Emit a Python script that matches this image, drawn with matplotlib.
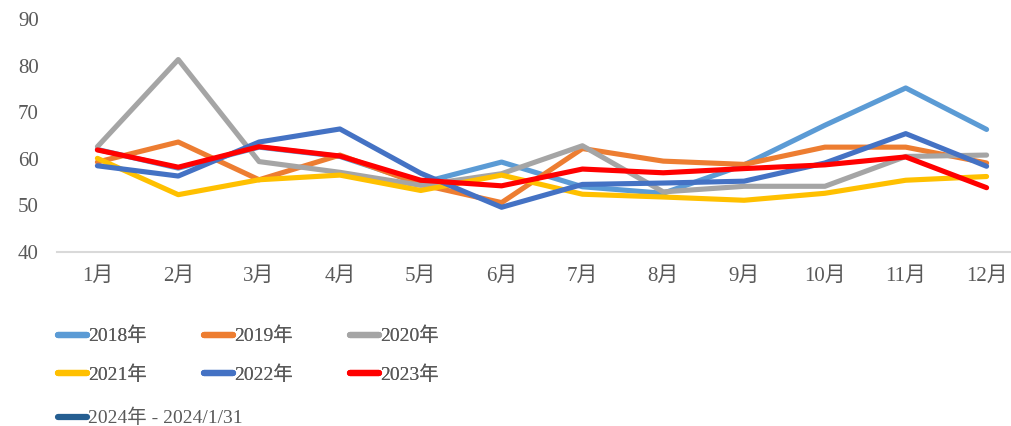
import numpy as np
import matplotlib
matplotlib.use("Agg")
import matplotlib.pyplot as plt

plt.rcParams['font.family'] = ['Liberation Serif', 'Noto Sans CJK SC', 'DejaVu Sans']

months = ['1月', '2月', '3月', '4月', '5月', '6月', '7月', '8月', '9月', '10月', '11月', '12月']
nan = np.nan
s2018 = [62.0, 58.0, 62.5, 60.5, 54.8, 59.3, 54.0, 52.6, 58.7, 67.2, 75.2, 66.3]
s2019 = [59.3, 63.6, 55.5, 60.8, 54.5, 50.6, 62.2, 59.5, 58.8, 62.5, 62.5, 59.1]
s2020 = [62.6, 81.3, 59.4, 57.1, 54.3, 56.8, 62.8, 52.9, 54.1, 54.1, 60.5, 60.8]
s2021 = [60.1, 52.3, 55.5, 56.5, 53.2, 56.5, 52.4, 51.8, 51.1, 52.6, 55.4, 56.2]
s2022 = [58.5, 56.3, 63.6, 66.4, 56.9, 49.6, 54.5, 54.8, 55.2, 59.1, 65.4, 58.4]
s2023 = [61.9, 58.2, 62.6, 60.6, 55.4, 54.2, 57.8, 57.0, 57.9, 58.7, 60.4, 53.8]
s2024 = [58.0, nan, nan, nan, nan, nan, nan, nan, nan, nan, nan, nan]

labels = ['2018年', '2019年', '2020年', '2021年', '2022年', '2023年', '2024年 - 2024/1/31']
colors = ['#5B9BD5', '#ED7D31', '#A5A5A5', '#FFC000', '#4472C4', '#FF0000', '#255E91']
series = [s2018, s2019, s2020, s2021, s2022, s2023, s2024]
yticks = [40, 50, 60, 70, 80, 90]

fig = plt.figure(figsize=(10.12, 4.26), dpi=100)
ax = fig.add_axes([57/1012, 1-252/426, 970/1012, 233/426])
x = np.arange(len(months))
handles = []
for s, c, l in zip(series, colors, labels):
    h, = ax.plot(x, s, color=c, lw=3.7, label=l, solid_capstyle='round', solid_joinstyle='round')
    handles.append(h)

ax.set_xlim(-0.5, 11.5)
ax.set_ylim(40, 90)
ax.set_yticks(yticks)
ax.set_xticks(x)
ax.set_xticklabels(months)
for sp in ['top', 'right', 'left']:
    ax.spines[sp].set_visible(False)
ax.spines['bottom'].set_color('#D9D9D9')
ax.spines['bottom'].set_linewidth(1.5)
ax.tick_params(axis='both', length=0, labelsize=15, labelcolor='#595959')
ax.tick_params(axis='y', pad=13)
ax.tick_params(axis='x', pad=11)

fs = 14
em = fs * 100 / 72.0
# first six entries, row-major in 3 columns
order = [0, 3, 1, 4, 2, 5]
leg_kw = dict(frameon=False, fontsize=fs, handlelength=1.5, handletextpad=0.05,
              labelcolor='#595959', borderpad=0, borderaxespad=0)
leg1 = fig.legend(handles=[handles[i] for i in order], labels=[labels[i] for i in order],
                  ncol=3, loc='upper left', bbox_to_anchor=(58/1012, 1-327/426),
                  columnspacing=(145 - 1.55 * em - 2.98 * em) / em, labelspacing=1.05, **leg_kw)
leg2 = fig.legend(handles=[handles[6]], labels=[labels[6]], loc='upper left',
                  bbox_to_anchor=(58/1012, 1-409/426), **leg_kw)
fig.add_artist(leg1)
for lg in (leg1, leg2):
    for lh in lg.legend_handles:
        lh.set_linewidth(4.5)
fig.savefig('out.png', dpi=100)
